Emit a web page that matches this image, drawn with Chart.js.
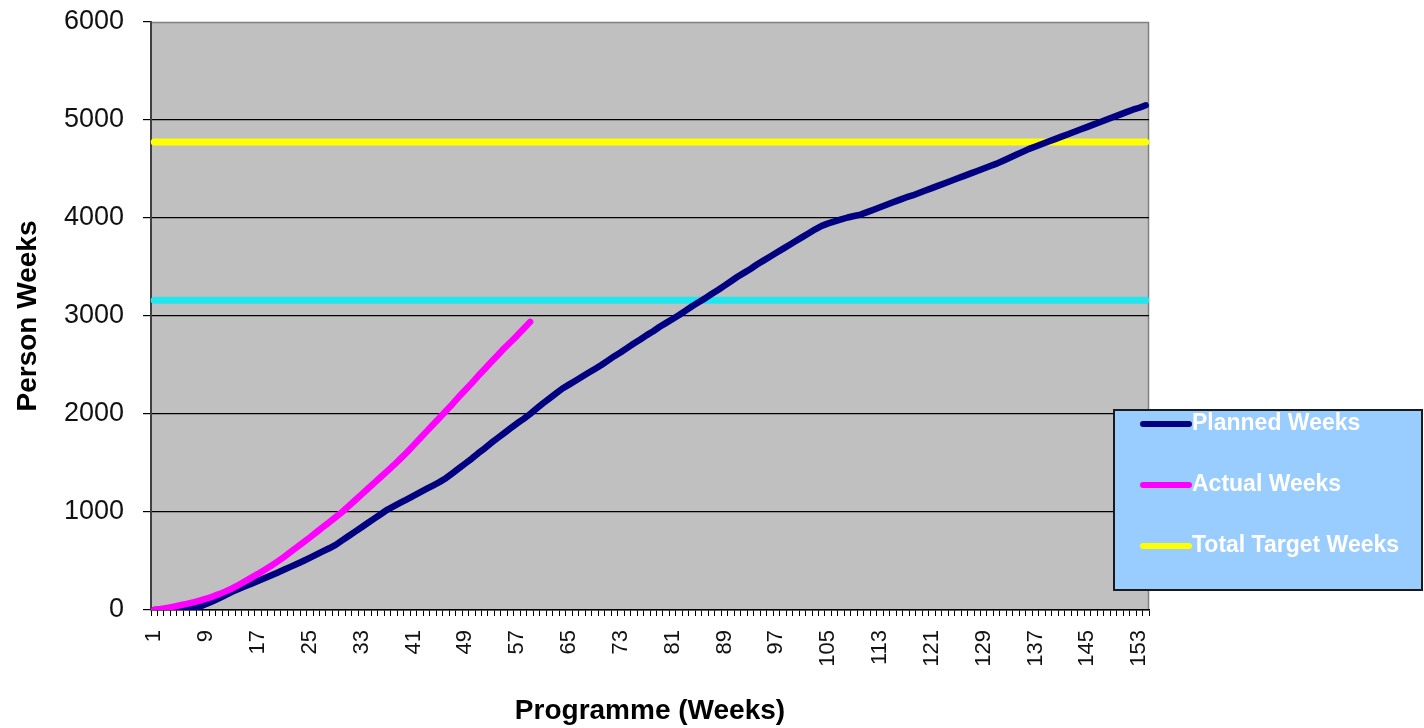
<!DOCTYPE html>
<html>
<head>
<meta charset="utf-8">
<script src="https://cdn.jsdelivr.net/npm/chart.js@4.4.1/dist/chart.umd.min.js"></script>
<style>
  html, body { margin: 0; padding: 0; background: #fff; }
  #wrap { width: 1424px; height: 728px; }
</style>
</head>
<body>
<div id="wrap"><canvas id="myChart" width="1424" height="728"></canvas></div>
<script>
// week numbers on the category axis
const weeks = Array.from({ length: 154 }, (_, i) => String(i + 1));

const plannedWeeks = [
  0, 3, 7, 11, 15, 20, 25, 32, 60, 90,
  120, 152, 185, 213, 241, 269, 297, 325, 353, 381,
  410, 440, 470, 500, 532, 565, 598, 630, 665, 710,
  755, 800, 845, 890, 935, 980, 1025, 1060, 1095, 1130,
  1165, 1200, 1235, 1270, 1305, 1345, 1395, 1445, 1495, 1545,
  1600, 1650, 1705, 1755, 1805, 1855, 1905, 1950, 2000, 2055,
  2110, 2160, 2210, 2260, 2300, 2340, 2380, 2420, 2460, 2500,
  2545, 2590, 2630, 2675, 2720, 2760, 2805, 2845, 2890, 2930,
  2970, 3010, 3055, 3100, 3140, 3180, 3225, 3265, 3310, 3355,
  3400, 3440, 3480, 3525, 3565, 3605, 3645, 3685, 3725, 3765,
  3805, 3845, 3885, 3920, 3945, 3965, 3985, 4005, 4020, 4035,
  4060, 4085, 4110, 4135, 4160, 4185, 4210, 4230, 4255, 4280,
  4305, 4330, 4355, 4380, 4405, 4430, 4455, 4480, 4505, 4530,
  4555, 4585, 4615, 4645, 4675, 4705, 4730, 4755, 4780, 4805,
  4830, 4855, 4880, 4905, 4930, 4955, 4980, 5005, 5030, 5055,
  5080, 5105, 5125, 5150
];

const actualWeeks = [
  0, 10, 22, 35, 48, 62, 78, 95, 115, 137,
  162, 190, 220, 255, 292, 330, 368, 408, 450, 494,
  540, 590, 640, 690, 740, 792, 845, 895, 948, 1000,
  1060, 1120, 1180, 1240, 1300, 1360, 1420, 1480, 1545, 1610,
  1680, 1750, 1820, 1890, 1960, 2030, 2100, 2175, 2245, 2315,
  2390, 2460, 2530, 2600, 2670, 2735, 2800, 2870, 2940
];

const totalTargetWeeks = 4775;
const interimTargetWeeks = 3160;

const yTicks = [0, 1000, 2000, 3000, 4000, 5000, 6000];

// grey plot area like the old Excel chart
const plotBackground = {
  id: "plotBackground",
  beforeDraw(chart) {
    const { ctx, chartArea: a } = chart;
    ctx.save();
    ctx.fillStyle = "#c0c0c0";
    ctx.fillRect(a.left, a.top, a.right - a.left, a.bottom - a.top);
    ctx.strokeStyle = "#808080";
    ctx.lineWidth = 1.5;
    ctx.beginPath();
    ctx.moveTo(a.left, a.top + 0.5);
    ctx.lineTo(a.right - 0.5, a.top + 0.5);
    ctx.lineTo(a.right - 0.5, a.bottom);
    ctx.stroke();
    ctx.restore();
  },
};

// legend box sitting over the lower right corner
const boxLegend = {
  id: "boxLegend",
  afterDraw(chart) {
    const { ctx } = chart;
    const items = chart.data.datasets.filter((d) => !d.hideInLegend);
    const x = 1114, y = 410, w = 308, h = 180;
    ctx.save();
    ctx.fillStyle = "#99ccff";
    ctx.fillRect(x, y, w, h);
    ctx.strokeStyle = "#1a1a1a";
    ctx.lineWidth = 2;
    ctx.strokeRect(x, y, w, h);
    ctx.font = "bold 23px 'Liberation Sans', Arial, sans-serif";
    ctx.textBaseline = "middle";
    items.forEach((d, i) => {
      const cy = y + 14 + i * 61;
      ctx.strokeStyle = d.borderColor;
      ctx.lineWidth = 6;
      ctx.lineCap = "round";
      ctx.beginPath();
      ctx.moveTo(1143, cy);
      ctx.lineTo(1189, cy);
      ctx.stroke();
      ctx.fillStyle = "#ffffff";
      ctx.fillText(d.label, 1192, cy);
    });
    ctx.restore();
  },
};

const lastWeek = weeks[weeks.length - 1];

const ctx = document.getElementById("myChart").getContext("2d");

const myChart = new Chart(ctx, {
  type: "line",
  data: {
    labels: weeks,
    datasets: [
      {
        label: "Planned Weeks",
        data: plannedWeeks,
        borderColor: "#000080",
        borderWidth: 6.5,
        order: 2,
      },
      {
        label: "Actual Weeks",
        data: actualWeeks,
        borderColor: "#ff00ff",
        borderWidth: 6.5,
        order: 1,
      },
      {
        label: "Total Target Weeks",
        data: [
          { x: weeks[0], y: totalTargetWeeks },
          { x: lastWeek, y: totalTargetWeeks },
        ],
        borderColor: "#ffff00",
        borderWidth: 7,
        order: 3,
      },
      {
        label: "Interim Target Weeks",
        data: [
          { x: weeks[0], y: interimTargetWeeks },
          { x: lastWeek, y: interimTargetWeeks },
        ],
        borderColor: "#22e6ee",
        borderWidth: 7,
        order: 4,
        hideInLegend: true,
      },
    ],
  },
  options: {
    responsive: false,
    animation: false,
    layout: {
      padding: { top: 22, right: 275, left: 0, bottom: 0 },
    },
    elements: {
      point: { radius: 0 },
      line: { tension: 0, borderCapStyle: "round", borderJoinStyle: "round" },
    },
    scales: {
      x: {
        offset: true,
        afterFit(scale) {
          scale.height = 118;
          scale.paddingLeft = 0;
          scale.paddingRight = 0;
        },
        title: {
          display: true,
          text: "Programme (Weeks)",
          color: "#000",
          padding: { top: 0, bottom: 0 },
          font: { family: "'Liberation Sans', Arial, sans-serif", size: 28, weight: "bold" },
        },
        ticks: {
          autoSkip: false,
          minRotation: 90,
          maxRotation: 90,
          padding: 14,
          color: "#111",
          font: { family: "'Liberation Sans', Arial, sans-serif", size: 22 },
          callback: function (value, index) {
            return index % 8 === 0 ? weeks[index] : "";
          },
        },
        grid: {
          offset: true,
          drawOnChartArea: false,
          tickLength: 6,
          color: "#000",
        },
        border: { color: "#000", width: 1.5 },
      },
      y: {
        min: yTicks[0],
        max: yTicks[yTicks.length - 1],
        afterFit(scale) {
          scale.width = 151;
          scale.paddingTop = 0;
          scale.paddingBottom = 0;
        },
        afterBuildTicks(scale) {
          scale.ticks = yTicks.map((v) => ({ value: v }));
        },
        title: {
          display: true,
          text: "Person Weeks",
          color: "#000",
          padding: { top: 11, bottom: 0 },
          font: { family: "'Liberation Sans', Arial, sans-serif", size: 28, weight: "bold" },
        },
        ticks: {
          padding: 19,
          color: "#111",
          font: { family: "'Liberation Sans', Arial, sans-serif", size: 27 },
          callback: function (value) {
            return String(value);
          },
        },
        grid: {
          // top edge keeps the grey plot border, no black gridline
          color: (c) => (c.tick && c.tick.value === yTicks[yTicks.length - 1] ? "rgba(0,0,0,0)" : "#000"),
          tickColor: "#000",
          lineWidth: 1.2,
          tickLength: 8,
        },
        border: { color: "#404040", width: 2 },
      },
    },
    plugins: {
      legend: { display: false },
      tooltip: { enabled: false },
    },
  },
  plugins: [plotBackground, boxLegend],
});
</script>
</body>
</html>
